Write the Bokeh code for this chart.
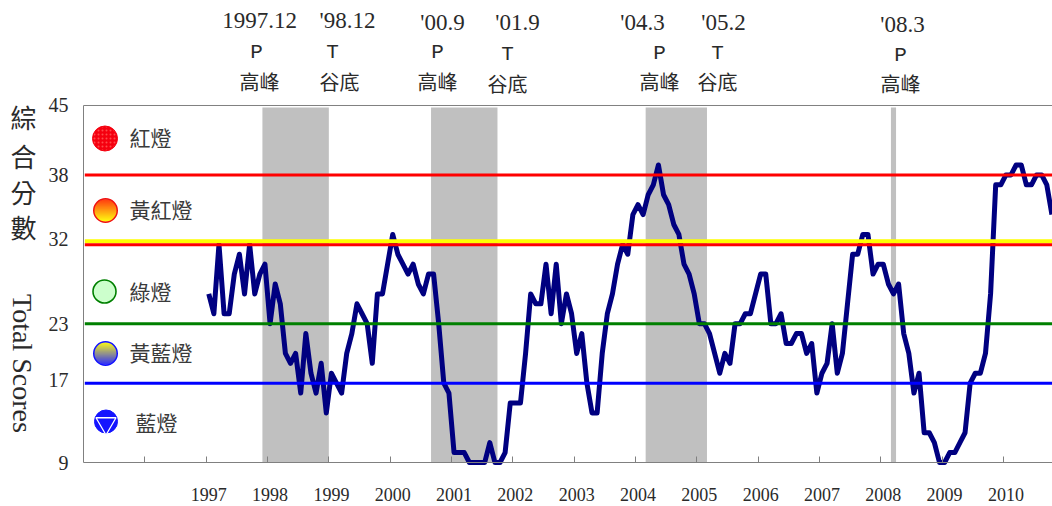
import numpy as np
from bokeh.embed import file_html
from bokeh.resources import INLINE
from bokeh.plotting import figure
from bokeh.models import Range1d, FixedTicker, Label

# monthly composite scores, Jan 1997 .. Oct 2010
y1997 = [26,24,31,24,24,28,30,26,31,26,28,29]
y1998 = [23,27,25,20,19,20,16,22,18,16,19,14]
y1999 = [18,17,16,20,22,25,24,23,19,26,26,29]
y2000 = [32,30,29,28,29,27,26,28,28,23,17,16]
y2001 = [10,10,10,9,9,9,9,11,9,9,10,15]
y2002 = [15,15,20,26,25,25,29,24,29,23,26,24]
y2003 = [20,22,17,14,14,20,24,26,29,31,30,34]
y2004 = [35,34,36,37,39,36,35,33,32,29,28,26]
y2005 = [23,23,22,20,18,20,19,23,23,24,24,26]
y2006 = [28,28,23,23,24,21,21,22,22,20,21,16]
y2007 = [18,19,23,18,20,25,30,30,32,32,28,29]
y2008 = [29,27,26,27,22,20,16,18,12,12,11,9]
y2009 = [9,10,10,11,12,17,18,18,20,26,37,37]
y2010 = [38,38,39,39,37,37,38,38,37,34]
scores = y1997+y1998+y1999+y2000+y2001+y2002+y2003+y2004+y2005+y2006+y2007+y2008+y2009+y2010
months = [i+0.5 for i in range(len(scores))]

years = list(range(1997, 2011))
band_start = [11, 44, 86, 134]
band_end = [24, 57, 98, 135]
thresholds = [38, 31.3, 30.95, 23, 17]
threshold_colors = ["#ff0000", "#ffff00", "#ff0000", "#008000", "#0000ff"]
threshold_widths = [3, 4, 3, 3, 3]
y_tick_labels = {45: "45", 38: "38", 31.5: "32", 23: "23", 17.3: "17", 9: "9"}

turning_dates = ["1997.12", "'98.12", "'00.9", "'01.9", "'04.3", "'05.2", "'08.3"]
turning_codes = ["P", "T", "P", "T", "P", "T", "P"]
turning_names = ["高峰", "谷底", "高峰", "谷底", "高峰", "谷底", "高峰"]
legend_names = ["紅燈", "黃紅燈", "綠燈", "黃藍燈", "藍燈"]

SERIF = "Liberation Serif"
CJK = "Noto Sans CJK TC"
MONO = "Liberation Mono"
TXT = "#2a2a2a"
AXC = "#808080"

# page-pixel helpers for the hand-placed decoration
def dx(px): return (px-205.7)/5.11
def dy(py): return 9+(462-py)/9.917

p = figure(width=1052, height=506, output_backend="svg", toolbar_location=None,
           x_range=Range1d(dx(0), dx(1052)), y_range=Range1d(dy(506), dy(0)),
           min_border=0)
p.grid.visible = False
p.outline_line_color = None
p.background_fill_color = "white"

# axes, pinned to the data position of the chart's plot area
xa = p.xaxis[0]
xa.fixed_location = 9
xa.bounds = (-24, dx(1052))
xa.ticker = FixedTicker(ticks=[(y-1997)*12+0.5 for y in years],
                        minor_ticks=[(y-1997)*12 for y in range(1996, 2011)])
xa.major_label_overrides = {(y-1997)*12+0.5: str(y) for y in years}
xa.major_tick_in = 0
xa.major_tick_out = 0
xa.minor_tick_in = 6
xa.minor_tick_out = 0
xa.minor_tick_line_color = AXC
xa.axis_line_color = AXC
xa.major_label_standoff = 25
xa.major_label_text_font = SERIF
xa.major_label_text_font_size = "18px"
xa.major_label_text_color = TXT

ya = p.yaxis[0]
ya.fixed_location = -24
ya.bounds = (9, 45)
ya.ticker = FixedTicker(ticks=list(y_tick_labels.keys()))
ya.major_label_overrides = y_tick_labels
ya.major_tick_in = 0
ya.major_tick_out = 0
ya.minor_tick_line_color = None
ya.axis_line_color = AXC
ya.major_label_standoff = 15
ya.major_label_text_font = SERIF
ya.major_label_text_font_size = "20px"
ya.major_label_text_color = TXT

p.segment(x0=[-24], x1=[dx(1052)], y0=[45], y1=[45], line_color=AXC, line_width=1)

# recession bands
p.quad(left=band_start, right=band_end, bottom=9, top=dy(107), fill_color="#c0c0c0", line_color=None)

# data
p.line(months, scores, line_color="#000080", line_width=5, line_join="round")

# thresholds
p.segment(x0=[dx(84.3)]*5, x1=[dx(1052)]*5, y0=thresholds, y1=thresholds,
          line_color=threshold_colors, line_width=threshold_widths)

# legend lamps
def gradient(cx, cy, r, top, bottom):
    rows = np.arange(-r, r+0.01, 1.0)
    t = (rows+r)/(2*r)
    cols = ["#%02x%02x%02x" % tuple(int(round(top[i]+(bottom[i]-top[i])*v)) for i in range(3)) for v in t]
    hw = np.sqrt(np.maximum(r*r-rows*rows, 0))
    p.segment(x0=[dx(cx-h) for h in hw], x1=[dx(cx+h) for h in hw],
              y0=[dy(cy+k) for k in rows], y1=[dy(cy+k) for k in rows],
              line_color=cols, line_width=1.3)

p.scatter([dx(104.5)], [dy(138)], size=25, marker="circle", fill_color="#f5000f", line_color="#f5000f",
          hatch_pattern="dot", hatch_color="#ff4a4a", hatch_scale=4, hatch_weight=0.4)
gradient(105, 210, 11.5, (255, 40, 0), (255, 255, 0))
p.scatter([dx(105)], [dy(210)], size=23.5, marker="circle", fill_color=None, line_color="#f01010", line_width=1.5)
p.scatter([dx(104)], [dy(291)], size=23, marker="circle", fill_color="#ccffcc", line_color="#008000", line_width=1.6)
gradient(105, 353, 11.5, (255, 255, 0), (30, 30, 255))
p.scatter([dx(105)], [dy(353)], size=23.5, marker="circle", fill_color=None, line_color="#1010ff", line_width=1.5)
p.scatter([dx(105.5)], [dy(421)], size=23, marker="circle", fill_color="#1414ff", line_color="#1414ff")
p.scatter([dx(105.5)], [dy(423)], size=20, marker="inverted_triangle", fill_color="#1414ff", line_color="white", line_width=1.3)

def txt(s, cx, cy, font, size, color=TXT, angle=0.0):
    p.add_layout(Label(x=cx, y=cy, x_units="canvas", y_units="canvas", text=s, text_font=font, text_font_size=size,
                       text_color=color, text_align="center", text_baseline="middle", angle=angle))

date_x = [259, 347, 442, 517, 642, 723, 902]
date_y = [20, 20, 22, 22, 22, 22, 24]
code_x = [256, 332, 437, 507, 659, 717, 900]
code_y = [52, 52, 52, 54, 53, 53, 55]
name_x = [259, 339, 437, 507, 659, 717, 900]
name_y = [81, 81, 81, 83, 81, 81, 83]
for i in range(7):
    txt(turning_dates[i], date_x[i], date_y[i], SERIF, "23px")
    txt(turning_codes[i], code_x[i], code_y[i], MONO, "21px")
    txt(turning_names[i], name_x[i], name_y[i], CJK, "20px")

leg_x = [150, 160.5, 150, 160.5, 156]
leg_y = [136, 208, 290, 351, 421]
for s, cx, cy in zip(legend_names, leg_x, leg_y):
    txt(s, cx, cy, CJK, "21px", "#3a3a3a")

for s, cy in zip("綜合分數", [116, 155, 191, 226]):
    txt(s, 23, cy, CJK, "26px")
txt("Total Scores", 22, 363, SERIF, "28px", angle=-np.pi/2)

open("out.html", "w").write(file_html(p, INLINE))
